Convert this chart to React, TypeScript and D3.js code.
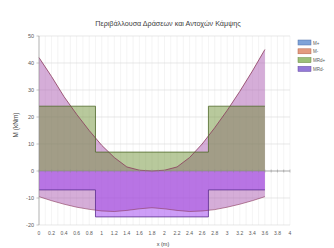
import { useEffect, useRef } from 'react';
import * as d3 from 'd3';

// positions along the beam (m) and the moment envelopes
const xs = [0, 0.2, 0.4, 0.6, 0.8, 1.0, 1.2, 1.4, 1.6, 1.8, 2.0, 2.2, 2.4, 2.6, 2.8, 3.0, 3.2, 3.4, 3.6];
const mMax = [42, 35, 27.5, 21, 15, 9.5, 5, 1.5, 0.3, 0, 0.3, 1.5, 5, 10, 16, 22.5, 29.5, 37, 45];
const mMin = [-9.5, -11, -12.3, -13.4, -14.2, -14.8, -15, -14.6, -14, -13.6, -14, -14.6, -15, -14.8, -14.3, -13.4, -12.3, -11, -9.5];

// resistance steps
const stepX = [0, 0.9, 0.9, 2.7, 2.7, 3.6];
const mRdPos = [24, 24, 7, 7, 24, 24];
const mRdNeg = [-7, -7, -17, -17, -7, -7];

const yTicks = [-20, -10, 0, 10, 20, 30, 40, 50];
const xTickLabels = ['0', '0.2', '0.4', '0.6', '0.8', '1', '1.2', '1.4', '1.6', '1.8', '2', '2.2', '2.4', '2.6', '2.8', '3', '3.2', '3.4', '3.6', '3.8', '4'];
const legendNames = ['M+', 'M-', 'MRd+', 'MRd-'];
const legendColors = ['#7fa3d8', '#e39b80', '#9cc07a', '#9479d8'];
const legendStrokes = ['#4f6fa8', '#b5634a', '#66853f', '#5f45a0'];

const App = () => {
  const svgRef = useRef(null);

  useEffect(() => {
    const svg = d3.select(svgRef.current);
    svg.selectAll('*').remove();

    const width = 334;
    const height = 248;
    const font = '"Liberation Sans", Arial, sans-serif';

    svg.attr('width', width).attr('height', height);
    svg.append('rect').attr('width', width).attr('height', height).attr('fill', '#fff');

    const x = d3.scaleLinear().domain([0, 4]).range([39, 290]);
    const y = d3.scaleLinear().domain([-20, 50]).range([225, 36]);

    // gridlines
    svg.append('g')
      .selectAll('line')
      .data(d3.range(0, 41).map(i => i / 10))
      .enter()
      .append('line')
      .attr('x1', d => x(d)).attr('x2', d => x(d))
      .attr('y1', y(50)).attr('y2', y(-20))
      .attr('stroke', '#ececec').attr('stroke-width', 0.6);

    svg.append('g')
      .selectAll('line')
      .data(yTicks)
      .enter()
      .append('line')
      .attr('x1', x(0)).attr('x2', x(4))
      .attr('y1', d => y(d)).attr('y2', d => y(d))
      .attr('stroke', '#d9d9d9').attr('stroke-width', 0.6);

    const pts = xs.map((v, i) => ({ x: v, hi: mMax[i], lo: mMin[i] }));
    const steps = stepX.map((v, i) => ({ x: v, pos: mRdPos[i], neg: mRdNeg[i] }));

    // envelope of actions
    const area = d3.area().x(d => x(d.x)).y0(y(0));
    const line = d3.line().x(d => x(d.x));

    svg.append('path')
      .datum(pts)
      .attr('d', area.y1(d => y(d.hi)))
      .attr('fill', 'rgba(172,92,178,0.5)');
    svg.append('path')
      .datum(pts)
      .attr('d', area.y1(d => y(d.lo)))
      .attr('fill', 'rgba(172,92,178,0.5)');

    // resistances
    svg.append('path')
      .datum(steps)
      .attr('d', area.y1(d => y(d.pos)))
      .attr('fill', 'rgba(105,140,45,0.47)');
    svg.append('path')
      .datum(steps)
      .attr('d', area.y1(d => y(d.neg)))
      .attr('fill', 'rgba(155,60,240,0.5)');

    svg.append('path')
      .datum(pts)
      .attr('d', line.y(d => y(d.hi)))
      .attr('fill', 'none').attr('stroke', '#8a3a5c').attr('stroke-width', 0.8);
    svg.append('path')
      .datum(pts)
      .attr('d', line.y(d => y(d.lo)))
      .attr('fill', 'none').attr('stroke', '#8a3a5c').attr('stroke-width', 0.6);
    svg.append('path')
      .datum(steps)
      .attr('d', line.y(d => y(d.pos)))
      .attr('fill', 'none').attr('stroke', '#4f6a2a').attr('stroke-width', 0.8);
    svg.append('path')
      .datum(steps)
      .attr('d', line.y(d => y(d.neg)))
      .attr('fill', 'none').attr('stroke', '#5a2f8f').attr('stroke-width', 0.8);

    // horizontal axis at zero
    svg.append('line')
      .attr('x1', x(0)).attr('x2', x(4))
      .attr('y1', y(0)).attr('y2', y(0))
      .attr('stroke', '#8c8c8c').attr('stroke-width', 0.6);
    svg.append('g')
      .selectAll('line')
      .data(d3.range(0, 41).map(i => i / 10))
      .enter()
      .append('line')
      .attr('x1', d => x(d)).attr('x2', d => x(d))
      .attr('y1', y(0) - 1.5).attr('y2', y(0) + 1.5)
      .attr('stroke', '#8c8c8c').attr('stroke-width', 0.5);

    // vertical axis
    svg.append('line')
      .attr('x1', x(0)).attr('x2', x(0))
      .attr('y1', y(50)).attr('y2', y(-20))
      .attr('stroke', '#8c8c8c').attr('stroke-width', 0.6);
    svg.append('g')
      .selectAll('line')
      .data(yTicks)
      .enter()
      .append('line')
      .attr('x1', x(0) - 2.5).attr('x2', x(0))
      .attr('y1', d => y(d)).attr('y2', d => y(d))
      .attr('stroke', '#8c8c8c').attr('stroke-width', 0.5);

    svg.append('g')
      .selectAll('text')
      .data(yTicks)
      .enter()
      .append('text')
      .attr('x', x(0) - 5)
      .attr('y', d => y(d) + 2)
      .attr('text-anchor', 'end')
      .attr('font-family', font).attr('font-size', 5.5).attr('fill', '#595959')
      .text(d => d);

    svg.append('g')
      .selectAll('text')
      .data(xTickLabels)
      .enter()
      .append('text')
      .attr('x', d => x(+d))
      .attr('y', 235)
      .attr('text-anchor', 'middle')
      .attr('font-family', font).attr('font-size', 5).attr('fill', '#595959')
      .text(d => d);

    // titles
    svg.append('text')
      .attr('x', 168).attr('y', 26)
      .attr('text-anchor', 'middle')
      .attr('font-family', font).attr('font-size', 7.2).attr('fill', '#404040')
      .text('Περιβάλλουσα Δράσεων και Αντοχών Κάμψης');

    svg.append('text')
      .attr('transform', `translate(18,${125}) rotate(-90)`)
      .attr('text-anchor', 'middle')
      .attr('font-family', font).attr('font-size', 6.5).attr('fill', '#404040')
      .text('M (kNm)');

    svg.append('text')
      .attr('x', 163).attr('y', 246)
      .attr('text-anchor', 'middle')
      .attr('font-family', font).attr('font-size', 5.5).attr('fill', '#404040')
      .text('x (m)');

    // legend
    const legend = svg.append('g')
      .selectAll('g')
      .data(legendNames)
      .enter()
      .append('g')
      .attr('transform', (d, i) => `translate(298,${40 + i * 8.8})`);
    legend.append('rect')
      .attr('width', 13).attr('height', 5)
      .attr('fill', (d, i) => legendColors[i])
      .attr('stroke', (d, i) => legendStrokes[i]).attr('stroke-width', 0.5);
    legend.append('text')
      .attr('x', 15).attr('y', 4.5)
      .attr('font-family', font).attr('font-size', 4.5).attr('fill', '#595959')
      .text(d => d);
  }, []);

  return (
    <svg ref={svgRef} style={{ position: 'absolute', left: 0, top: 0 }}></svg>
  );
};

export default App;
